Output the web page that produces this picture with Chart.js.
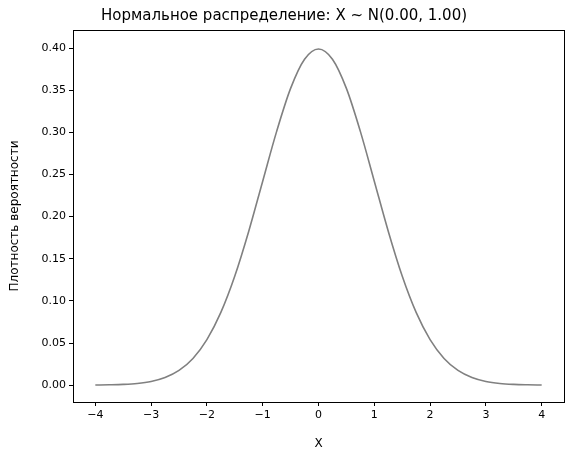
<!DOCTYPE html>
<html>
<head>
<meta charset="utf-8">
<script src="https://cdn.jsdelivr.net/npm/chart.js@4/dist/chart.umd.min.js"></script>
<style>
  html, body { margin: 0; padding: 0; background: #fff; }
  #wrap { width: 576px; height: 455px; }
</style>
</head>
<body>
<div id="wrap"><canvas id="normChart"></canvas></div>
<script>
// values, step 0.25
const xValues = [-4, -3.75, -3.5, -3.25, -3, -2.75, -2.5, -2.25, -2, -1.75, -1.5, -1.25, -1, -0.75, -0.5, -0.25,
                 0, 0.25, 0.5, 0.75, 1, 1.25, 1.5, 1.75, 2, 2.25, 2.5, 2.75, 3, 3.25, 3.5, 3.75, 4];
const densityValues = [0.0001, 0.0004, 0.0009, 0.0020, 0.0044, 0.0091, 0.0175, 0.0317, 0.0540, 0.0863, 0.1295, 0.1827, 0.2420, 0.3011, 0.3521, 0.3867,
                       0.3989, 0.3867, 0.3521, 0.3011, 0.2420, 0.1827, 0.1295, 0.0863, 0.0540, 0.0317, 0.0175, 0.0091, 0.0044, 0.0020, 0.0009, 0.0004, 0.0001];
const xTicks = [-4, -3, -2, -1, 0, 1, 2, 3, 4];
const yTicks = [0, 0.05, 0.10, 0.15, 0.20, 0.25, 0.30, 0.35, 0.40];

const fontFamily = 'DejaVu Sans';
const points = xValues.map((x, i) => ({ x: x, y: densityValues[i] }));

const frame = {
    id: 'frame',
    afterDraw(chart) {
        const a = chart.chartArea, c = chart.ctx;
        c.save();
        c.strokeStyle = '#000';
        c.lineWidth = 1;
        c.strokeRect(a.left + 0.5, a.top + 0.5, a.right - a.left, a.bottom - a.top);
        c.restore();
    }
};

const tickGrid = { drawOnChartArea: false, drawTicks: true, tickLength: 4, tickColor: '#000', color: '#000' };

new Chart(document.getElementById('normChart'), {
    type: 'line',
    data: {
        datasets: [{
            data: points,
            borderColor: '#808080',
            borderWidth: 1.6,
            pointRadius: 0,
            cubicInterpolationMode: 'monotone',
            fill: false
        }]
    },
    options: {
        responsive: true,
        maintainAspectRatio: false,
        animation: false,
        layout: { padding: { left: 4, right: 12, top: 0, bottom: 0 } },
        plugins: {
            legend: { display: false },
            tooltip: { enabled: false },
            title: {
                display: true,
                text: 'Нормальное распределение: X ~ N(0.00, 1.00)',
                color: '#000',
                font: { family: fontFamily, size: 15, weight: 'normal' },
                padding: { top: 7, bottom: 5 }
            }
        },
        scales: {
            x: {
                type: 'linear',
                min: -4.4,
                max: 4.4,
                afterBuildTicks: (s) => { s.ticks = xTicks.map(v => ({ value: v })); },
                afterFit: (s) => { s.height = 53; },
                grid: tickGrid,
                border: { display: false },
                ticks: {
                    color: '#000',
                    padding: 3,
                    font: { family: fontFamily, size: 11 },
                    callback: (v) => String(v).replace('-', '\u2212')
                },
                title: { display: true, text: 'X', color: '#000', font: { family: fontFamily, size: 12 } }
            },
            y: {
                min: -0.02,
                max: 0.4214,
                afterBuildTicks: (s) => { s.ticks = yTicks.map(v => ({ value: v })); },
                afterFit: (s) => { s.width = 69; },
                grid: tickGrid,
                border: { display: false },
                ticks: {
                    color: '#000',
                    padding: 3,
                    font: { family: fontFamily, size: 11 },
                    callback: (v) => v.toFixed(2)
                },
                title: { display: true, text: 'Плотность вероятности', color: '#000', font: { family: fontFamily, size: 12 } }
            }
        }
    },
    plugins: [frame]
});
</script>
</body>
</html>
